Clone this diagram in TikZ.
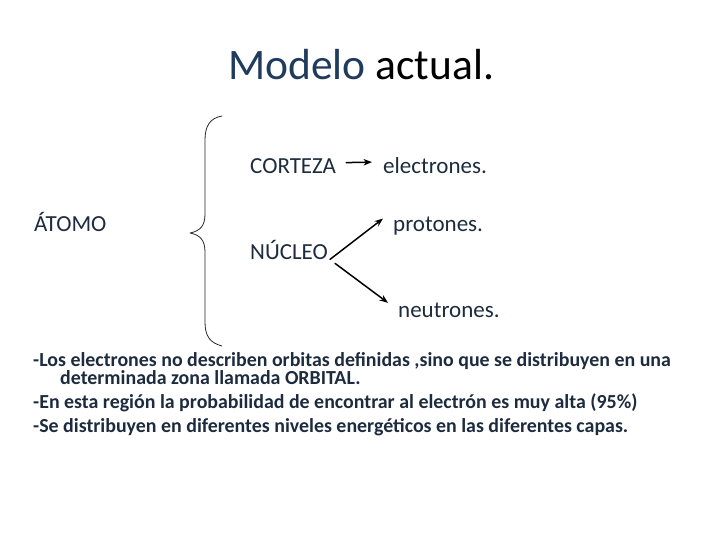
\documentclass[tikz,border=0pt]{standalone}
\usepackage{fontspec}
\setmainfont{Carlito}
\usetikzlibrary{calc,arrows.meta}
\definecolor{titleblue}{HTML}{1F3B5E}
\definecolor{textnavy}{HTML}{1D2B3E}
\begin{document}
\begin{tikzpicture}[x=1pt, y=-1pt, line join=round, line cap=round, >={Stealth[length=8.5pt,width=6.5pt]}]
	\tikzset{word/.style={anchor=base west, inner sep=0pt, text=textnavy, font=\fontsize{23}{27}\selectfont},
		note/.style={anchor=base west, inner sep=0pt, text=textnavy, font=\fontsize{19.9}{24}\selectfont\bfseries},
		link/.style={->, line width=1.5pt}}
	\useasboundingbox (0,0) rectangle (720,540);
	% title
	\node[anchor=base west, inner sep=0pt, font=\fontsize{43.5}{48}\selectfont] (title) at (228,80) {\textcolor{titleblue}{Modelo} actual.};
	% words
	\node[word] (atomo) at (34,232) {ÁTOMO};
	\node[word] (corteza) at (250,174) {CORTEZA};
	\node[word] (electrones) at (383,174) {electrones.};
	\node[word] (nucleo) at (250,259) {NÚCLEO};
	\node[word] (protones) at (393,231) {protones.};
	\node[word] (neutrones) at (398,317) {neutrones.};
	% brace
	\draw[line width=0.8pt, black!85] (222,116) .. controls (210,118) and (205,126) .. (205,140) -- (205,214)
		.. controls (205,226) and (200,231) .. (190,233) .. controls (200,235) and (205,240) .. (205,252)
		-- (205,322) .. controls (205,336) and (210,343) .. (222,346);
	% arrows
	\draw[link] ($(corteza.east)+(10,-4)$) -- ($(electrones.west)+(-11,-4)$);
	\draw[link] ($(nucleo.south east)+(2,0)$) -- ($(protones.west)+(-10,-7)$);
	\draw[link] ($(nucleo.south east)+(7,4)$) -- ($(neutrones.west)+(-10,-7)$);
	% notes
	\node[note] (line1) at (33,366) {-Los electrones no describen orbitas definidas ,sino que se distribuyen en una};
	\node[note] (line2) at (60,384) {determinada zona llamada ORBITAL.};
	\node[note] (line3) at (33,408) {-En esta región la probabilidad de encontrar al electrón es muy alta (95\%)};
	\node[note] (line4) at (33,432) {-Se distribuyen en diferentes niveles energéticos en las diferentes capas.};
\end{tikzpicture}
\end{document}
